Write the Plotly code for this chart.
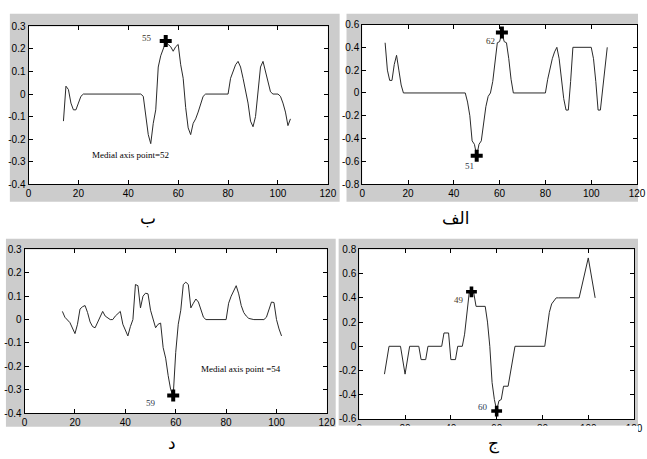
import plotly.graph_objects as go

# ---------------- data ----------------
# Panel "ب" (top-left)
be_x = [14, 15, 16, 17, 18, 19, 20, 21, 22, 45, 46, 47, 48, 49, 50, 51, 52, 53, 54, 55,
        56, 57, 58, 59, 60, 61, 62, 63, 64, 65, 66, 67, 68, 69, 70, 71, 80, 81, 82, 83,
        84, 85, 86, 87, 88, 89, 90, 91, 92, 93, 94, 95, 96, 97, 98, 100, 101, 102, 103, 104, 105]
be_y = [-0.12, 0.035, 0.02, -0.04, -0.07, -0.07, -0.04, -0.01, 0.0, 0.0, -0.01, -0.10, -0.18, -0.22, -0.13, -0.07, 0.12, 0.17, 0.20, 0.23,
        0.22, 0.21, 0.19, 0.21, 0.22, 0.13, 0.07, -0.06, -0.15, -0.18, -0.13, -0.11, -0.08, -0.04, -0.01, 0.0, 0.0, 0.07, 0.10, 0.13,
        0.145, 0.12, 0.07, 0.02, -0.04, -0.12, -0.145, -0.10, 0.02, 0.12, 0.145, 0.10, 0.05, 0.01, 0.0, 0.0, -0.01, -0.04, -0.08, -0.14, -0.11]
be_mark_x = [55]
be_mark_y = [0.235]

# Panel "الف" (top-right)
alef_x = [10, 11, 12, 13, 14, 15, 16, 17, 18, 45, 46, 47, 48, 49, 50, 51, 52, 53, 54, 55,
          56, 57, 58, 59, 60, 61, 62, 63, 64, 65, 66, 80, 81, 82, 83, 84, 85, 86, 87, 88,
          89, 90, 91, 92, 100, 101, 102, 103, 104, 105, 106, 107]
alef_y = [0.44, 0.20, 0.11, 0.11, 0.25, 0.33, 0.20, 0.07, 0.0, 0.0, -0.08, -0.20, -0.42, -0.45, -0.55, -0.45, -0.42, -0.25, -0.12, -0.03,
          0.0, 0.10, 0.25, 0.44, 0.45, 0.53, 0.45, 0.44, 0.30, 0.12, 0.0, 0.0, 0.12, 0.22, 0.30, 0.36, 0.40, 0.30, 0.10, -0.05,
          -0.15, -0.15, 0.10, 0.40, 0.40, 0.30, 0.10, -0.15, -0.15, 0.05, 0.25, 0.40]
alef_mark_x = [50, 61]
alef_mark_y = [-0.55, 0.53]

# Panel "د" (bottom-left)
dal_x = [15, 16, 18, 20, 21, 22, 23, 24, 25, 26, 27, 28, 31, 32, 34, 35, 36, 38, 39, 41,
         42, 43, 44, 45, 46, 47, 48, 49, 50, 51, 52, 53, 54, 55, 56, 57, 58, 59, 60, 61,
         62, 63, 64, 65, 66, 67, 68, 69, 70, 71, 72, 80, 81, 82, 84, 85, 86, 87, 88, 89,
         91, 95, 96, 97, 98, 99, 100, 101, 102]
dal_y = [0.035, 0.01, -0.013, -0.06, -0.02, 0.045, 0.055, 0.06, 0.03, -0.01, -0.03, -0.035, 0.035, 0.015, 0.0, 0.0, 0.015, 0.035, -0.02, -0.07,
         -0.03, 0.0, 0.15, 0.145, 0.05, 0.10, 0.113, 0.11, 0.04, 0.0, -0.035, -0.02, -0.015, -0.12, -0.165, -0.24, -0.30, -0.325, -0.14, -0.02,
         0.04, 0.15, 0.16, 0.15, 0.05, 0.07, 0.088, 0.075, 0.04, 0.01, 0.0, 0.0, 0.07, 0.10, 0.145, 0.11, 0.06, 0.03, 0.015, 0.005,
         0.0, 0.0, 0.01, 0.04, 0.075, 0.073, 0.0, -0.04, -0.07]
dal_mark_x = [59]
dal_mark_y = [-0.325]

# Panel "ج" (bottom-right)
jim_x = [11, 13, 18, 20, 22, 26, 27, 29, 30, 36, 37, 39, 40, 42, 43, 45, 46, 47, 48, 49,
         50, 51, 55, 56, 57, 58, 59, 60, 61, 62, 63, 65, 66, 68, 81, 82, 83, 84, 85, 86,
         87, 96, 100, 103]
jim_y = [-0.23, 0.0, 0.0, -0.23, 0.0, 0.0, -0.11, -0.11, 0.0, 0.0, 0.11, 0.11, -0.11, -0.11, 0.0, 0.0, 0.10, 0.28, 0.44, 0.45,
         0.44, 0.33, 0.33, 0.20, 0.0, -0.30, -0.44, -0.53, -0.45, -0.44, -0.33, -0.33, -0.23, 0.0, 0.0, 0.15, 0.28, 0.35, 0.38, 0.40,
         0.40, 0.40, 0.73, 0.40]
jim_mark_x = [49, 60]
jim_mark_y = [0.45, -0.535]

# tick labels
x_tickvals = [0, 20, 40, 60, 80, 100, 120]
x_ticktext = ['0', '20', '40', '60', '80', '100', '120']
y_small_vals = [0.3, 0.2, 0.1, 0, -0.1, -0.2, -0.3, -0.4]
y_small_text = ['0.3', '0.2', '0.1', '0', '-0.1', '-0.2', '-0.3', '-0.4']
y_alef_vals = [0.6, 0.4, 0.2, 0, -0.2, -0.4, -0.6, -0.8]
y_alef_text = ['0.6', '0.4', '0.2', '0', '-0.2', '-0.4', '-0.6', '-0.8']
y_jim_vals = [0.8, 0.6, 0.4, 0.2, 0, -0.2, -0.4, -0.6]
y_jim_text = ['0.8', '0.6', '0.4', '0.2', '0', '-0.2', '-0.4', '-0.6']

# ---------------- figure ----------------
W, H = 647, 459
fig = go.Figure()

LINE = dict(color='#2a2a2a', width=1)
mark_sizes = [10, 10, 10, 9]

panels = [
    ('x', 'y', be_x, be_y, be_mark_x, be_mark_y),
    ('x2', 'y2', alef_x, alef_y, alef_mark_x, alef_mark_y),
    ('x3', 'y3', dal_x, dal_y, dal_mark_x, dal_mark_y),
    ('x4', 'y4', jim_x, jim_y, jim_mark_x, jim_mark_y),
]
for i, (xa, ya, xs, ys, mx, my) in enumerate(panels):
    fig.add_trace(go.Scatter(x=xs, y=ys, mode='lines', line=LINE, xaxis=xa, yaxis=ya,
                             showlegend=False, hoverinfo='skip'))
    fig.add_trace(go.Scatter(x=mx, y=my, mode='markers',
                             marker=dict(symbol='cross', size=mark_sizes[i], color='black'),
                             xaxis=xa, yaxis=ya, showlegend=False, hoverinfo='skip'))


def px_dom(a, b):
    return [a / W, b / W]


def py_dom(top, bottom):
    return [1 - bottom / H, 1 - top / H]


tick_font = dict(family='Liberation Sans, Arial', size=10, color='black')
common_ax = dict(showline=True, linecolor='black', linewidth=1, mirror='allticks',
                 ticks='inside', ticklen=4, tickcolor='black', showgrid=False,
                 zeroline=False, tickfont=tick_font, fixedrange=True)

axes_px = {
    '': ((26, 331), (21, 183), y_small_vals, y_small_text, [-0.4, 0.3]),
    '2': ((366, 646), (19, 183), y_alef_vals, y_alef_text, [-0.8, 0.6]),
    '3': ((22, 330), (250, 418), y_small_vals, y_small_text, [-0.4, 0.3]),
    '4': ((363, 643), (250, 424), y_jim_vals, y_jim_text, [-0.6, 0.8]),
}
lay = {}
for k, (xr, yr, yv, yt, yrange) in axes_px.items():
    lay['xaxis' + k] = dict(domain=px_dom(xr[0], xr[1]), range=[0, 120],
                            tickvals=x_tickvals, ticktext=x_ticktext,
                            anchor='y' + k, **common_ax)
    lay['yaxis' + k] = dict(domain=py_dom(yr[0], yr[1]), range=yrange,
                            tickvals=yv, ticktext=yt, anchor='x' + k, **common_ax)

fig.update_layout(width=W, height=H, margin=dict(l=0, r=0, t=0, b=0),
                  paper_bgcolor='white', plot_bgcolor='white', **lay)

# gray figure backgrounds (MATLAB style)
gray_px = [(7, 343, 8, 201), (350, 647, 8, 201), (3, 339, 239, 432), (342, 647, 239, 431)]
for x0, x1, y0, y1 in gray_px:
    fig.add_shape(type='rect', xref='paper', yref='paper', x0=x0 / W, x1=x1 / W,
                  y0=1 - y1 / H, y1=1 - y0 / H, fillcolor='#cccccc', line_width=0,
                  layer='below')
# white plot areas
for k, (xr, yr, yv, yt, yrange) in axes_px.items():
    fig.add_shape(type='rect', xref='paper', yref='paper', x0=xr[0] / W, x1=xr[1] / W,
                  y0=1 - yr[1] / H, y1=1 - yr[0] / H, fillcolor='white', line_width=0,
                  layer='below')
# clipped bottom of the last panel
fig.add_shape(type='rect', xref='paper', yref='paper', x0=341 / W, x1=1,
              y0=1 - 443 / H, y1=1 - 431 / H, fillcolor='white', line_width=0, layer='above')

serif = 'Liberation Serif, Times New Roman'
ann = [
    dict(x=47.5, y=0.247, xref='x', yref='y', text='55', font=dict(family=serif, size=9, color='#3a3328')),
    dict(x=41, y=-0.27, xref='x', yref='y', text='Medial axis point=52', font=dict(family=serif, size=9, color='black')),
    dict(x=56.1, y=0.455, xref='x2', yref='y2', text='62', font=dict(family=serif, size=9, color='#3a3328')),
    dict(x=46.9, y=-0.64, xref='x2', yref='y2', text='51', font=dict(family=serif, size=9, color='#2c3548')),
    dict(x=50.1, y=-0.358, xref='x3', yref='y3', text='59', font=dict(family=serif, size=9, color='#2c3548')),
    dict(x=86, y=-0.212, xref='x3', yref='y3', text='Medial axis point =54', font=dict(family=serif, size=9, color='black')),
    dict(x=43.4, y=0.383, xref='x4', yref='y4', text='49', font=dict(family=serif, size=9, color='#4a3a28')),
    dict(x=53.9, y=-0.50, xref='x4', yref='y4', text='60', font=dict(family=serif, size=9, color='#2c3a58')),
]
arabic_font = dict(family='DejaVu Sans', size=17, color='black')
for txt, xp, yp in [('ب', 148, 218), ('الف', 462, 218), ('د', 172, 449), ('ج', 500, 449)]:
    ann.append(dict(x=xp / W, y=1 - yp / H, xref='paper', yref='paper', text=txt,
                    font=arabic_font))
for a in ann:
    a['showarrow'] = False
    a['xanchor'] = 'center'
    a['yanchor'] = 'middle'
    fig.add_annotation(**a)

fig.write_html('out.html', config={'displayModeBar': False, 'staticPlot': True},
               post_script="document.body.style.margin='0';document.body.style.padding='0';"
                           "document.body.style.overflow='hidden';")
